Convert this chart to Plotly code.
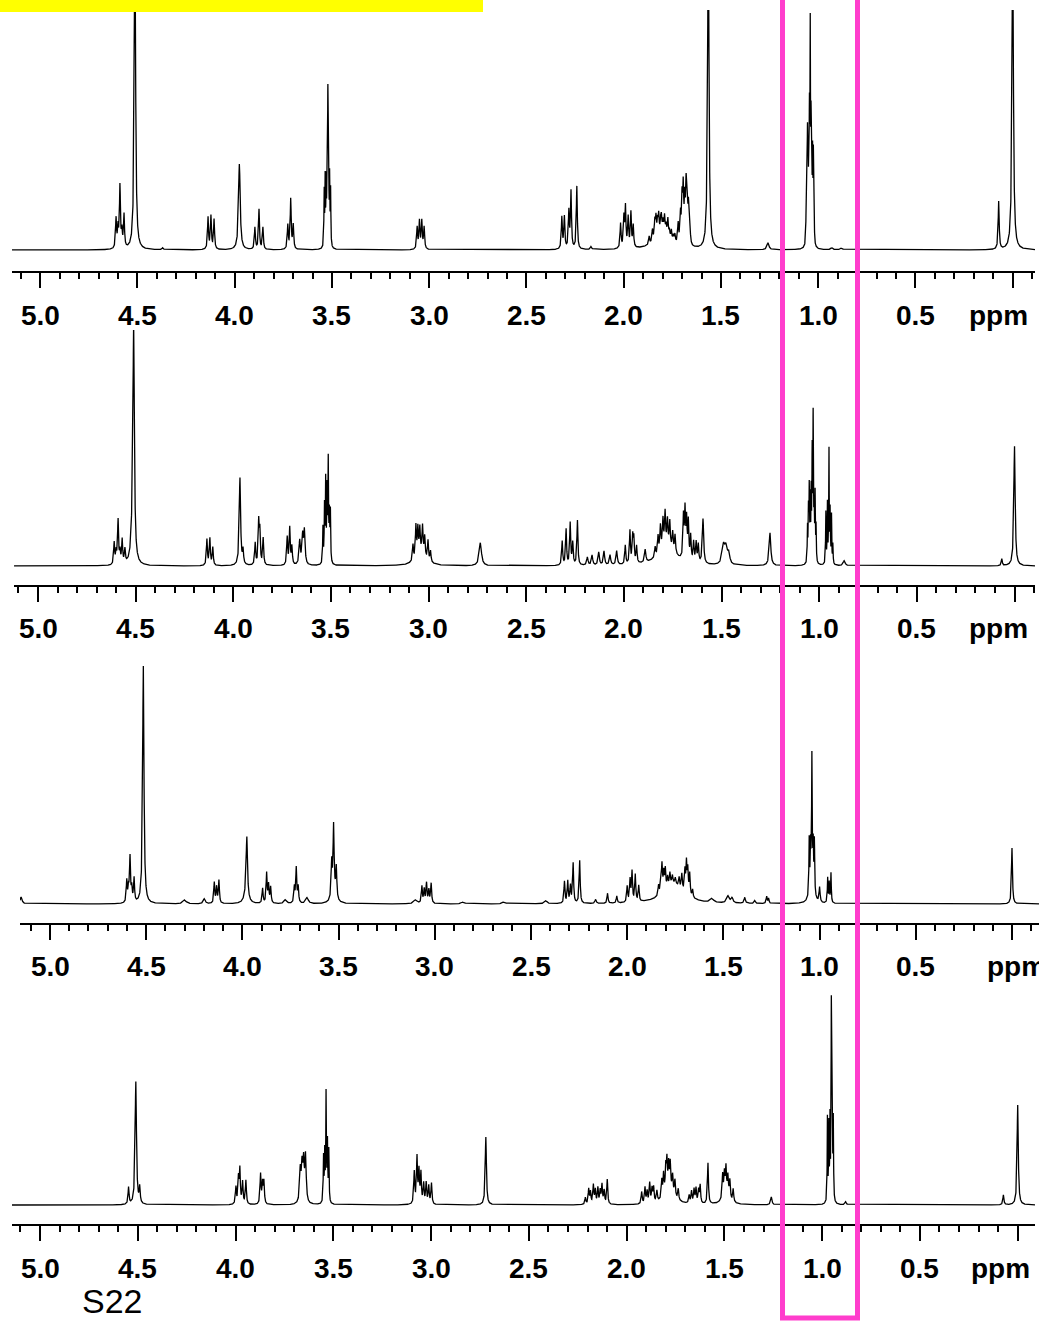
import numpy as np
import plotly.graph_objects as go

W, H = 1039, 1322

# ---------------- data: peak lists (ppm, apparent height, half-width) ----------------
# Spectrum 1
p1_ppm = [4.610, 4.600, 4.590, 4.580, 4.569, 4.513, 4.370,
          4.137, 4.122, 4.106, 3.976, 3.896, 3.875, 3.855,
          3.727, 3.712, 3.699,
          3.540, 3.535, 3.530, 3.525, 3.521, 3.517, 3.512, 3.507,
          3.062, 3.050, 3.038, 3.026,
          2.318, 2.305, 2.282, 2.271, 2.241, 2.168,
          2.016, 1.999, 1.991, 1.977, 1.963, 1.951,
          1.800, 1.869, 1.852, 1.840, 1.834, 1.826, 1.820, 1.810, 1.806, 1.798, 1.790,
          1.782, 1.773, 1.765, 1.755, 1.745, 1.737,
          1.720, 1.708, 1.700, 1.694, 1.686, 1.679, 1.673, 1.667, 1.660,
          1.565, 1.258,
          1.062, 1.058, 1.055, 1.052, 1.048, 1.045, 1.041, 1.037, 1.033, 1.029, 1.025, 1.021,
          0.930, 0.880, 0.072, 0.000]
p1_h = [30, 20, 62, 16, 33, 330, 2,
        32, 33, 30, 86, 22, 40, 22,
        24, 50, 24,
        55, 65, 60, 90, 140, 80, 65, 55,
        22, 28, 28, 22,
        32, 32, 37, 57, 63, 3,
        25, 30, 40, 30, 35, 22,
        14, 8, 12, 18, 20, 15, 20, 12, 15, 12, 18,
        10, 18, 8, 10, 6, 8,
        20, 28, 42, 52, 40, 56, 32, 36, 18,
        330, 7,
        28, 80, 85, 80, 75, 105, 200, 105, 75, 80, 85, 28,
        2, 2, 48, 330]
p1_w = [0.003, 0.003, 0.003, 0.003, 0.003, 0.004, 0.004,
        0.003, 0.003, 0.003, 0.005, 0.003, 0.003, 0.003,
        0.003, 0.003, 0.003,
        0.0015, 0.0015, 0.0015, 0.0015, 0.0015, 0.0015, 0.0015, 0.0015,
        0.003, 0.003, 0.003, 0.003,
        0.003, 0.003, 0.003, 0.003, 0.003, 0.004,
        0.003, 0.003, 0.003, 0.003, 0.003, 0.003,
        0.05, 0.003, 0.003, 0.003, 0.003, 0.003, 0.003, 0.003, 0.003, 0.003, 0.003,
        0.003, 0.003, 0.003, 0.003, 0.003, 0.003,
        0.003, 0.003, 0.003, 0.003, 0.003, 0.003, 0.003, 0.003, 0.003,
        0.004, 0.006,
        0.0015, 0.0015, 0.0015, 0.0015, 0.0015, 0.0015, 0.0015, 0.0015, 0.0015, 0.0015, 0.0015, 0.0015,
        0.006, 0.006, 0.003, 0.004]

# Spectrum 2
p2_ppm = [4.610, 4.600, 4.590, 4.580, 4.569, 4.555, 4.510, 4.515,
          4.135, 4.120, 4.105, 3.966, 3.950,
          3.888, 3.870, 3.864, 3.847,
          3.724, 3.711, 3.700, 3.660, 3.645, 3.636,
          3.541, 3.533, 3.527, 3.520, 3.514, 3.508, 3.503,
          3.040, 3.080, 3.065, 3.055, 3.045, 3.031, 3.020, 3.003, 2.990,
          2.735,
          2.316, 2.296, 2.275, 2.262, 2.238,
          2.187, 2.163, 2.129, 2.102, 2.071, 2.037,
          1.993, 1.969, 1.955, 1.949, 1.935, 1.891,
          1.780, 1.840, 1.825, 1.813, 1.800, 1.789, 1.777, 1.765, 1.750, 1.738,
          1.695, 1.687, 1.679, 1.670, 1.658, 1.643, 1.630, 1.619,
          1.595, 1.490, 1.477, 1.463, 1.252,
          1.060, 1.055, 1.051, 1.046, 1.041, 1.036, 1.031, 1.026, 1.021, 1.016,
          0.966, 0.958, 0.950, 0.944, 0.937, 0.930,
          0.872, 0.065, 0.000]
p2_h = [22, 12, 44, 12, 24, 14, 215, 40,
        26, 27, 18, 88, 14,
        22, 42, 32, 27,
        28, 37, 18, 24, 28, 33,
        36, 55, 80, 70, 100, 45, 50,
        12, 16, 32, 27, 25, 28, 20, 20, 11,
        23,
        24, 36, 42, 22, 45,
        8, 10, 13, 14, 10, 14,
        19, 33, 26, 24, 17, 13,
        20, 10, 18, 25, 28, 33, 25, 25, 18, 18,
        42, 47, 38, 38, 25, 20, 20, 18,
        45, 18, 16, 10, 33,
        35, 50, 70, 60, 65, 105, 140, 60, 65, 35,
        52, 60, 114, 52, 48, 20,
        5, 7, 120]
p2_w = [0.003, 0.003, 0.003, 0.003, 0.003, 0.003, 0.004, 0.008,
        0.003, 0.003, 0.003, 0.004, 0.003,
        0.003, 0.003, 0.003, 0.003,
        0.003, 0.003, 0.003, 0.004, 0.004, 0.004,
        0.0018, 0.0018, 0.0018, 0.0018, 0.0018, 0.0018, 0.0018,
        0.03, 0.003, 0.003, 0.003, 0.003, 0.003, 0.003, 0.003, 0.003,
        0.007,
        0.003, 0.003, 0.003, 0.003, 0.003,
        0.004, 0.004, 0.004, 0.004, 0.004, 0.004,
        0.003, 0.003, 0.003, 0.003, 0.003, 0.004,
        0.05, 0.003, 0.003, 0.003, 0.003, 0.003, 0.003, 0.003, 0.003, 0.003,
        0.003, 0.003, 0.003, 0.003, 0.003, 0.003, 0.003, 0.003,
        0.004, 0.008, 0.008, 0.006, 0.005,
        0.0015, 0.0015, 0.0015, 0.0015, 0.0015, 0.0015, 0.0015, 0.0015, 0.0015, 0.0015,
        0.0015, 0.0015, 0.0015, 0.0015, 0.0015, 0.0015,
        0.006, 0.003, 0.004]

# Spectrum 3
p3_ppm = [5.150,
          4.601, 4.592, 4.584, 4.575, 4.563, 4.515, 4.300, 4.198,
          4.146, 4.134, 4.122, 3.977, 3.980,
          3.895, 3.874, 3.864, 3.853, 3.777,
          3.730, 3.720, 3.710, 3.664,
          3.536, 3.526, 3.512, 3.525,
          3.100, 3.067, 3.055, 3.043, 3.031, 3.019,
          2.853, 2.640, 2.423,
          2.326, 2.309, 2.295, 2.281, 2.247,
          2.164, 2.102, 2.054,
          2.000, 1.985, 1.975, 1.958, 1.940,
          1.760, 1.837, 1.825, 1.819, 1.810, 1.802, 1.790, 1.778, 1.765, 1.750,
          1.730, 1.716, 1.700, 1.692, 1.685, 1.675, 1.660,
          1.560, 1.476, 1.455, 1.389, 1.337, 1.275, 1.265,
          1.040, 1.054, 1.047, 1.040, 1.033, 1.027,
          1.000, 0.958, 0.950, 0.941, 0.000]
p3_h = [7,
        22, 14, 45, 14, 24, 238, 4, 5,
        21, 16, 23, 58, 10,
        15, 30, 18, 16, 4,
        16, 35, 16, 6,
        34, 64, 30, 14,
        4, 17, 14, 20, 13, 20,
        2, 2, 3,
        22, 22, 17, 40, 43,
        4, 10, 7,
        16, 22, 30, 27, 16,
        20, 10, 18, 26, 18, 20, 10, 12, 8, 6,
        10, 16, 22, 30, 24, 22, 8,
        4, 7, 5, 6, 3, 7, 5,
        26, 55, 40, 120, 40, 52,
        15, 25, 20, 30, 56]
p3_w = [0.006,
        0.003, 0.003, 0.003, 0.003, 0.003, 0.004, 0.01, 0.006,
        0.003, 0.003, 0.003, 0.004, 0.012,
        0.003, 0.003, 0.003, 0.003, 0.008,
        0.003, 0.003, 0.003, 0.008,
        0.003, 0.003, 0.003, 0.012,
        0.01, 0.003, 0.003, 0.003, 0.003, 0.003,
        0.01, 0.01, 0.008,
        0.003, 0.003, 0.003, 0.003, 0.003,
        0.004, 0.003, 0.003,
        0.003, 0.003, 0.003, 0.003, 0.003,
        0.06, 0.003, 0.003, 0.003, 0.003, 0.003, 0.003, 0.003, 0.003, 0.003,
        0.003, 0.003, 0.003, 0.003, 0.003, 0.003, 0.003,
        0.01, 0.008, 0.006, 0.004, 0.004, 0.003, 0.003,
        0.01, 0.0018, 0.0018, 0.0018, 0.0018, 0.0018,
        0.003, 0.002, 0.002, 0.002, 0.003]

# Spectrum 4
p4_ppm = [4.547, 4.510, 4.490,
          3.998, 3.985, 3.978, 3.964, 3.947,
          3.872, 3.862, 3.855,
          3.669, 3.660, 3.652, 3.642,
          3.550, 3.544, 3.537, 3.530, 3.523,
          3.086, 3.072, 3.062, 3.052, 3.038, 3.025, 3.012, 2.998,
          2.720,
          2.211, 2.194, 2.185, 2.170, 2.160, 2.147, 2.135, 2.126, 2.115, 2.099,
          1.923, 1.906, 1.895, 1.882, 1.870, 1.862, 1.845,
          1.780, 1.820, 1.811, 1.800, 1.794, 1.785, 1.777, 1.765, 1.753, 1.736,
          1.680, 1.668, 1.655, 1.645, 1.632, 1.624,
          1.584,
          1.490, 1.509, 1.500, 1.492, 1.482, 1.472, 1.455,
          1.260,
          0.973, 0.966, 0.960, 0.953, 0.948, 0.943,
          0.880, 0.073, 0.000]
p4_h = [17, 123, 16,
        17, 25, 34, 22, 24,
        30, 20, 22,
        32, 34, 38, 46,
        45, 48, 108, 58, 52,
        32, 46, 32, 30, 20, 21, 18, 21,
        68,
        7, 15, 12, 19, 14, 16, 13, 19, 13, 25,
        12, 16, 12, 20, 14, 15, 11,
        14, 18, 22, 25, 30, 25, 26, 17, 16, 11,
        8, 12, 14, 15, 13, 18,
        41,
        10, 24, 22, 26, 19, 18, 13,
        8,
        85, 75, 80, 198, 80, 80,
        3, 10, 100]
p4_w = [0.003, 0.004, 0.003,
        0.003, 0.003, 0.003, 0.003, 0.003,
        0.003, 0.003, 0.003,
        0.004, 0.004, 0.004, 0.004,
        0.0018, 0.0018, 0.0018, 0.0018, 0.0018,
        0.003, 0.003, 0.003, 0.003, 0.003, 0.003, 0.003, 0.003,
        0.0035,
        0.003, 0.003, 0.003, 0.003, 0.003, 0.003, 0.003, 0.003, 0.003, 0.003,
        0.003, 0.003, 0.003, 0.003, 0.003, 0.003, 0.003,
        0.03, 0.003, 0.003, 0.003, 0.003, 0.003, 0.003, 0.003, 0.003, 0.003,
        0.003, 0.003, 0.003, 0.003, 0.003, 0.003,
        0.003,
        0.02, 0.003, 0.003, 0.003, 0.003, 0.003, 0.003,
        0.004,
        0.0015, 0.0015, 0.0015, 0.0015, 0.0015, 0.0015,
        0.004, 0.003, 0.0035]

tick_labels = ["5.0", "4.5", "4.0", "3.5", "3.0", "2.5", "2.0", "1.5", "1.0", "0.5"]
unit_label = "ppm"
page_label = "S22"

spectra = [(p1_ppm, p1_h, p1_w), (p2_ppm, p2_h, p2_w),
           (p3_ppm, p3_h, p3_w), (p4_ppm, p4_h, p4_w)]

# ---------------- panel geometry (pixels) ----------------
panels = [
    dict(xl=12, xr=1035, x5=40.2, x0=1012.7, ya=271, yb=250, yt=10, yl=315, xppm=998),
    dict(xl=14, xr=1035, x5=38.0, x0=1014.5, ya=585, yb=566, yt=330, yl=628, xppm=998),
    dict(xl=20, xr=1039, x5=50.0, x0=1012.0, ya=923, yb=904, yt=660, yl=966, xppm=1016),
    dict(xl=12, xr=1035, x5=40.0, x0=1017.7, ya=1224, yb=1205, yt=990, yl=1268, xppm=1000),
]

fig = go.Figure()
annotations = []
layout_axes = {}
font_lbl = dict(family="Liberation Sans, Arial, sans-serif", size=28, color="black", weight="bold")

for i, (pan, (ppm, hh, ww)) in enumerate(zip(panels, spectra), start=1):
    scale = (pan["x0"] - pan["x5"]) / 5.0
    ppm_left = (pan["x0"] - pan["xl"]) / scale
    ppm_right = (pan["x0"] - pan["xr"]) / scale
    grid = np.arange(ppm_right, ppm_left, 0.0004)
    p = np.array(ppm)[:, None]
    h = np.array(hh, dtype=float)[:, None]
    w = np.array(ww)[:, None]
    y = (h * w ** 2 / ((grid[None, :] - p) ** 2 + w ** 2)).sum(axis=0)

    sfx = "" if i == 1 else str(i)
    fig.add_trace(go.Scatter(x=grid, y=y, mode="lines", line=dict(color="black", width=1.3),
                             xaxis="x" + sfx, yaxis="y" + sfx, hoverinfo="skip", showlegend=False))

    layout_axes["xaxis" + sfx] = dict(
        domain=[pan["xl"] / W, pan["xr"] / W], range=[ppm_left, ppm_right],
        anchor="y" + sfx, showline=True, linecolor="black", linewidth=2,
        ticks="outside", ticklen=15, tickwidth=2, tickcolor="black",
        tickmode="linear", tick0=0, dtick=0.5, showticklabels=False,
        showgrid=False, zeroline=False, fixedrange=True,
        minor=dict(ticks="outside", ticklen=6, tickwidth=1.5, tickcolor="black",
                   dtick=0.1, tick0=0, showgrid=False),
    )
    layout_axes["yaxis" + sfx] = dict(
        domain=[1 - pan["ya"] / H, 1 - pan["yt"] / H],
        range=[-(pan["ya"] - pan["yb"]), pan["yb"] - pan["yt"]],
        anchor="x" + sfx, visible=False, fixedrange=True,
    )
    for t in tick_labels:
        annotations.append(dict(text=t, x=float(t), xref="x" + sfx, y=1 - pan["yl"] / H, yref="paper",
                                showarrow=False, xanchor="center", yanchor="middle", font=font_lbl))
    annotations.append(dict(text=unit_label, x=pan["xppm"] / W, xref="paper", y=1 - pan["yl"] / H,
                            yref="paper", showarrow=False, xanchor="center", yanchor="middle",
                            font=font_lbl))

annotations.append(dict(text=page_label, x=112 / W, xref="paper", y=1 - 1301 / H, yref="paper",
                        showarrow=False, xanchor="center", yanchor="middle",
                        font=dict(family="Liberation Sans, Arial, sans-serif", size=34, color="black")))

shapes = [
    dict(type="rect", xref="paper", yref="paper", x0=0, x1=483 / W, y0=1 - 12 / H, y1=1.02,
         fillcolor="#FFFF00", line=dict(width=0), layer="above"),
    dict(type="rect", xref="paper", yref="paper", x0=782.5 / W, x1=857.5 / W, y0=1 - 1318 / H, y1=1.05,
         fillcolor="rgba(0,0,0,0)", line=dict(color="#FF3DCC", width=5), layer="above"),
]

fig.update_layout(width=W, height=H, margin=dict(l=0, r=0, t=0, b=0),
                  paper_bgcolor="white", plot_bgcolor="rgba(0,0,0,0)",
                  showlegend=False, annotations=annotations, shapes=shapes, **layout_axes)

fig.write_html("out.html", config={"displayModeBar": False},
               post_script="document.body.style.margin='0';document.body.style.padding='0';"
                           "document.body.style.overflow='hidden';")
